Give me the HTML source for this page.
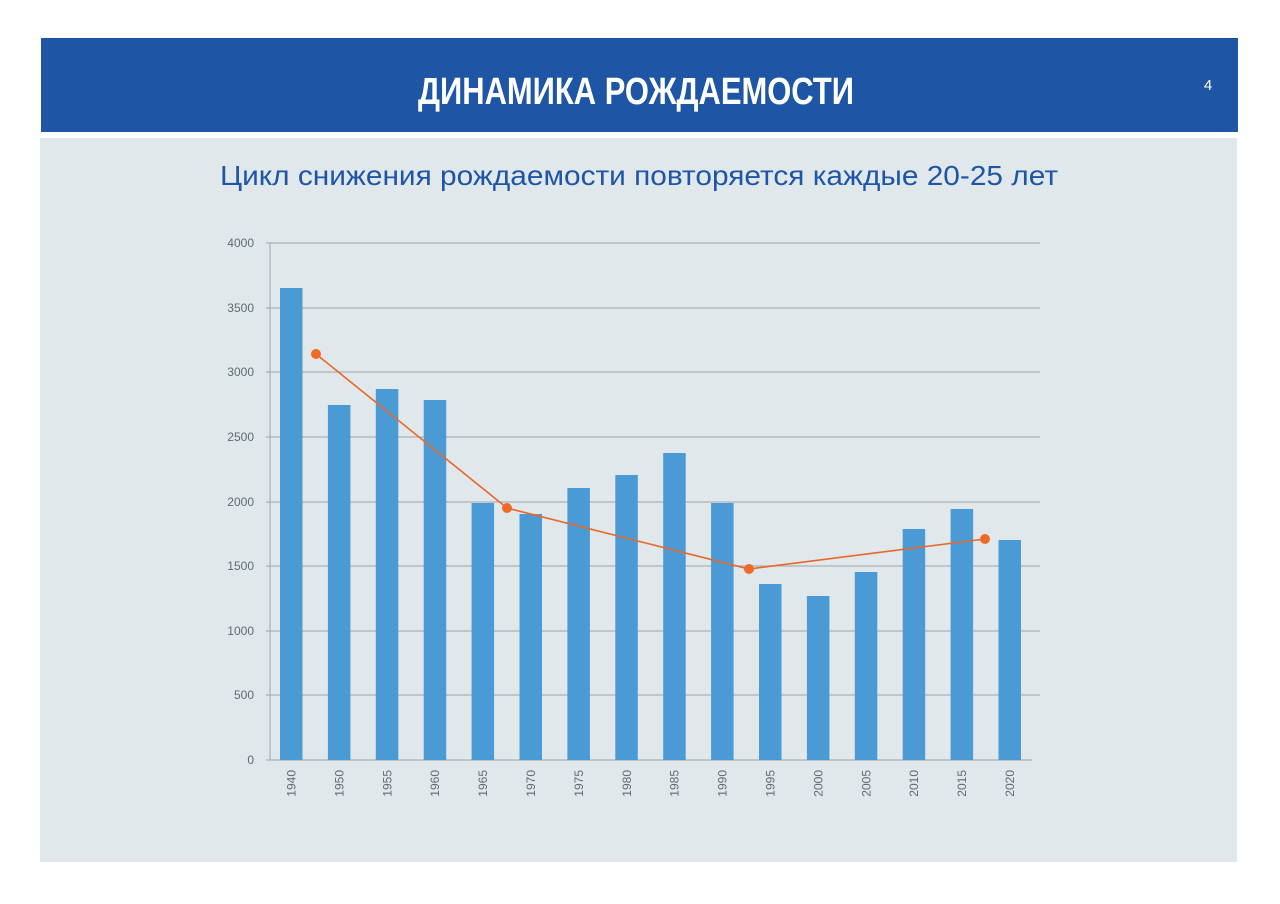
<!DOCTYPE html>
<html><head><meta charset="utf-8"><style>
html,body{margin:0;padding:0;background:#fff;}
svg{display:block}
</style></head><body>
<svg width="1280" height="904" xmlns="http://www.w3.org/2000/svg" font-family="'Liberation Sans', sans-serif">
<rect x="0" y="0" width="1280" height="904" fill="#fff"/>
<rect x="41" y="38" width="1197" height="94" fill="#1f55a5"/>
<text x="636" y="104" text-anchor="middle" fill="#fff" font-family="'Liberation Sans Narrow','Liberation Sans',sans-serif" font-weight="bold" font-size="38" textLength="436" lengthAdjust="spacingAndGlyphs">ДИНАМИКА РОЖДАЕМОСТИ</text>
<text x="1208" y="90" text-anchor="middle" fill="#fff" font-size="15">4</text>
<rect x="40" y="138" width="1197" height="724" fill="#e1e8ec"/>
<text x="220" y="185" fill="#1f55a5" font-size="28" textLength="838" lengthAdjust="spacingAndGlyphs">Цикл снижения рождаемости повторяется каждые 20-25 лет</text>
<g stroke="#a9b1b6" stroke-width="1.2">
<line x1="266" y1="243" x2="1040" y2="243"/>
<line x1="266" y1="308" x2="1040" y2="308"/>
<line x1="266" y1="372" x2="1040" y2="372"/>
<line x1="266" y1="437" x2="1040" y2="437"/>
<line x1="266" y1="502" x2="1040" y2="502"/>
<line x1="266" y1="566" x2="1040" y2="566"/>
<line x1="266" y1="631" x2="1040" y2="631"/>
<line x1="266" y1="695" x2="1040" y2="695"/>
<line x1="266" y1="760" x2="1032" y2="760"/>
<line x1="270" y1="243" x2="270" y2="760"/>
</g>
<g fill="#5f6a70" font-size="12" text-anchor="end">
<text x="254" y="247">4000</text><text x="254" y="312">3500</text><text x="254" y="376">3000</text>
<text x="254" y="441">2500</text><text x="254" y="506">2000</text><text x="254" y="570">1500</text>
<text x="254" y="635">1000</text><text x="254" y="699">500</text><text x="254" y="764">0</text>
</g>
<g fill="#4a9ad6">
<rect x="280" y="288" width="22.5" height="472"/>
<rect x="327.9" y="405" width="22.5" height="355"/>
<rect x="375.8" y="389" width="22.5" height="371"/>
<rect x="423.7" y="400" width="22.5" height="360"/>
<rect x="471.6" y="503" width="22.5" height="257"/>
<rect x="519.5" y="514" width="22.5" height="246"/>
<rect x="567.4" y="488" width="22.5" height="272"/>
<rect x="615.3" y="475" width="22.5" height="285"/>
<rect x="663.2" y="453" width="22.5" height="307"/>
<rect x="711.1" y="503" width="22.5" height="257"/>
<rect x="759" y="584" width="22.5" height="176"/>
<rect x="806.9" y="596" width="22.5" height="164"/>
<rect x="854.8" y="572" width="22.5" height="188"/>
<rect x="902.7" y="529" width="22.5" height="231"/>
<rect x="950.6" y="509" width="22.5" height="251"/>
<rect x="998.5" y="540" width="22.5" height="220"/>
</g>
<polyline points="316,354 507,508 749,569 985,539" fill="none" stroke="#e8672a" stroke-width="1.6"/>
<g fill="#ee6a26">
<circle cx="316" cy="354" r="5"/><circle cx="507" cy="508" r="5"/><circle cx="749" cy="569" r="5"/><circle cx="985" cy="539" r="5"/>
</g>
<g fill="#5f6a70" font-size="12" text-anchor="end">
<text transform="translate(295.5,770) rotate(-90)">1940</text>
<text transform="translate(343.4,770) rotate(-90)">1950</text>
<text transform="translate(391.3,770) rotate(-90)">1955</text>
<text transform="translate(439.2,770) rotate(-90)">1960</text>
<text transform="translate(487.1,770) rotate(-90)">1965</text>
<text transform="translate(535,770) rotate(-90)">1970</text>
<text transform="translate(582.9,770) rotate(-90)">1975</text>
<text transform="translate(630.8,770) rotate(-90)">1980</text>
<text transform="translate(678.7,770) rotate(-90)">1985</text>
<text transform="translate(726.6,770) rotate(-90)">1990</text>
<text transform="translate(774.5,770) rotate(-90)">1995</text>
<text transform="translate(822.4,770) rotate(-90)">2000</text>
<text transform="translate(870.3,770) rotate(-90)">2005</text>
<text transform="translate(918.2,770) rotate(-90)">2010</text>
<text transform="translate(966.1,770) rotate(-90)">2015</text>
<text transform="translate(1014,770) rotate(-90)">2020</text>
</g>
</svg>
</body></html>
